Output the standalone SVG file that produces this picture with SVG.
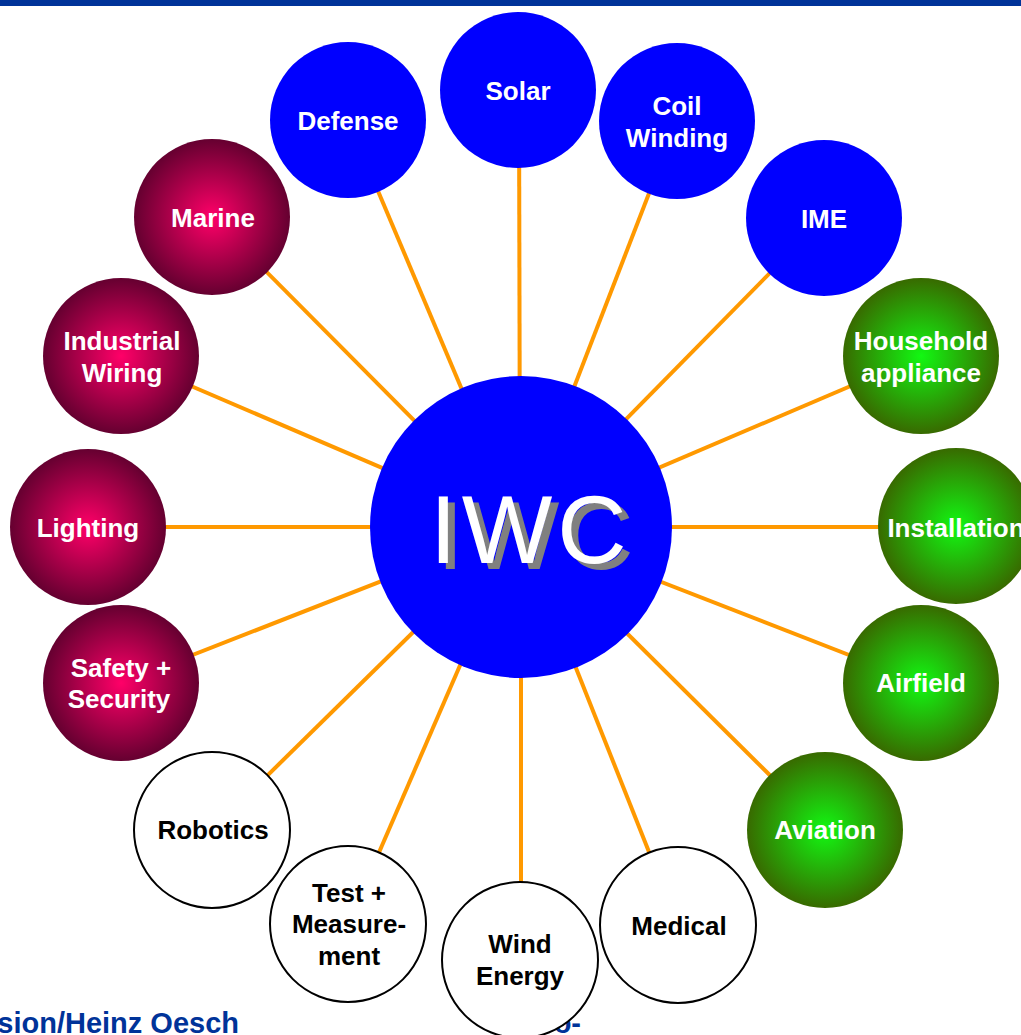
<svg xmlns="http://www.w3.org/2000/svg" width="1021" height="1035" viewBox="0 0 1021 1035">
  <defs>
    <radialGradient id="gMag" cx="50%" cy="50%" r="50%">
      <stop offset="0%" stop-color="#ff0068"/>
      <stop offset="100%" stop-color="#650030"/>
    </radialGradient>
    <radialGradient id="gGrn" cx="50%" cy="50%" r="50%">
      <stop offset="0%" stop-color="#12f812"/>
      <stop offset="100%" stop-color="#386a00"/>
    </radialGradient>
    <style>
      .conn { stroke: #ff9900; stroke-width: 4; fill: none; }
      .blue { fill: #0000ff; }
      .mag { fill: url(#gMag); }
      .grn { fill: url(#gGrn); }
      .wht { fill: #ffffff; stroke: #000000; stroke-width: 2; }
      .lbl { font-family: "Liberation Sans", Arial, sans-serif; font-weight: bold; font-size: 26px; text-anchor: middle; fill: #ffffff; }
      .dark { fill: #000000; }
      .foot { font-family: "Liberation Sans", Arial, sans-serif; font-weight: bold; font-size: 29px; fill: #003399; text-anchor: end; }
      .iwc { font-family: "Liberation Sans", Arial, sans-serif; font-size: 96px; letter-spacing: 5px; }
    </style>
  </defs>

  <rect x="0" y="0" width="1021" height="6" fill="#003399"/>

  <g id="footer">
    <text class="foot" x="239" y="1033">sion/Heinz Oesch</text>
    <text class="foot" x="581" y="1033">o-</text>
  </g>

  <g id="connectors">
    <line class="conn" x1="520" y1="527" x2="519" y2="90"/>
    <line class="conn" x1="520" y1="527" x2="677" y2="121"/>
    <line class="conn" x1="520" y1="527" x2="824" y2="218"/>
    <line class="conn" x1="520" y1="527" x2="921" y2="356"/>
    <line class="conn" x1="520" y1="527" x2="956" y2="527"/>
    <line class="conn" x1="520" y1="527" x2="921" y2="683"/>
    <line class="conn" x1="520" y1="527" x2="825" y2="830"/>
    <line class="conn" x1="520" y1="527" x2="678" y2="925"/>
    <line class="conn" x1="521" y1="527" x2="521" y2="960"/>
    <line class="conn" x1="520" y1="527" x2="348" y2="924"/>
    <line class="conn" x1="520" y1="527" x2="212" y2="830"/>
    <line class="conn" x1="520" y1="527" x2="121" y2="683"/>
    <line class="conn" x1="520" y1="527" x2="88" y2="527"/>
    <line class="conn" x1="520" y1="527" x2="121" y2="356"/>
    <line class="conn" x1="520" y1="527" x2="212" y2="217"/>
    <line class="conn" x1="520" y1="527" x2="348" y2="120"/>
  </g>

  <g id="node-iwc">
    <circle class="blue" cx="521" cy="527" r="151"/>
    <text class="iwc" x="437" y="569" fill="#808080">IWC</text>
    <text class="iwc" x="430" y="563" fill="#ffffff">IWC</text>
  </g>

  <g id="node-solar">
    <circle class="blue" cx="518" cy="90" r="78"/>
    <text class="lbl" x="518" y="100">Solar</text>
  </g>
  <g id="node-coil">
    <circle class="blue" cx="677" cy="121" r="78"/>
    <text class="lbl" x="677" y="115">Coil</text>
    <text class="lbl" x="677" y="147">Winding</text>
  </g>
  <g id="node-ime">
    <circle class="blue" cx="824" cy="218" r="78"/>
    <text class="lbl" x="824" y="228">IME</text>
  </g>
  <g id="node-household">
    <circle class="grn" cx="921" cy="356" r="78"/>
    <text class="lbl" x="921" y="350">Household</text>
    <text class="lbl" x="921" y="382">appliance</text>
  </g>
  <g id="node-installation">
    <circle class="grn" cx="956" cy="526" r="78"/>
    <text class="lbl" x="956" y="537">Installation</text>
  </g>
  <g id="node-airfield">
    <circle class="grn" cx="921" cy="683" r="78"/>
    <text class="lbl" x="921" y="692">Airfield</text>
  </g>
  <g id="node-aviation">
    <circle class="grn" cx="825" cy="830" r="78"/>
    <text class="lbl" x="825" y="839">Aviation</text>
  </g>
  <g id="node-medical">
    <circle class="wht" cx="678" cy="925" r="78"/>
    <text class="lbl dark" x="679" y="935">Medical</text>
  </g>
  <g id="node-wind">
    <circle class="wht" cx="520" cy="960" r="78"/>
    <text class="lbl dark" x="520" y="953">Wind</text>
    <text class="lbl dark" x="520" y="985">Energy</text>
  </g>
  <g id="node-test">
    <circle class="wht" cx="348" cy="924" r="78"/>
    <text class="lbl dark" x="349" y="902">Test +</text>
    <text class="lbl dark" x="349" y="933">Measure-</text>
    <text class="lbl dark" x="349" y="965">ment</text>
  </g>
  <g id="node-robotics">
    <circle class="wht" cx="212" cy="830" r="78"/>
    <text class="lbl dark" x="213" y="839">Robotics</text>
  </g>
  <g id="node-safety">
    <circle class="mag" cx="121" cy="683" r="78"/>
    <text class="lbl" x="121" y="677">Safety +</text>
    <text class="lbl" x="119" y="708">Security</text>
  </g>
  <g id="node-lighting">
    <circle class="mag" cx="88" cy="527" r="78"/>
    <text class="lbl" x="88" y="537">Lighting</text>
  </g>
  <g id="node-industrial">
    <circle class="mag" cx="121" cy="356" r="78"/>
    <text class="lbl" x="122" y="350">Industrial</text>
    <text class="lbl" x="122" y="382">Wiring</text>
  </g>
  <g id="node-marine">
    <circle class="mag" cx="212" cy="217" r="78"/>
    <text class="lbl" x="213" y="227">Marine</text>
  </g>
  <g id="node-defense">
    <circle class="blue" cx="348" cy="120" r="78"/>
    <text class="lbl" x="348" y="130">Defense</text>
  </g>
</svg>
